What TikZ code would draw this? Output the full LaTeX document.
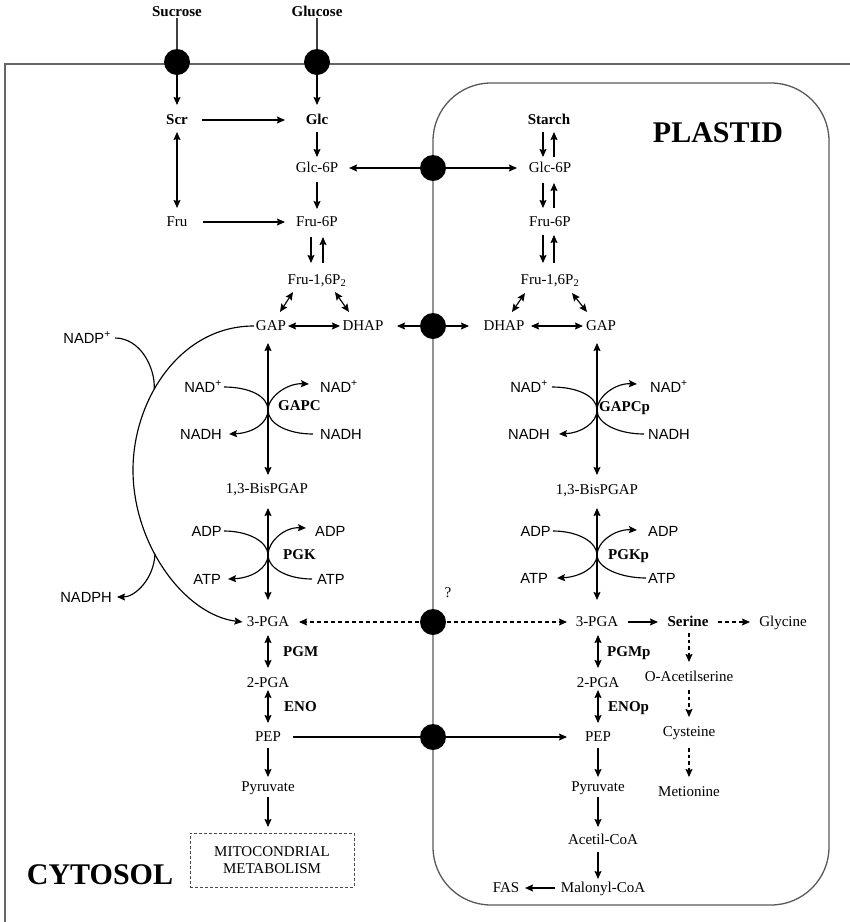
\documentclass[tikz,border=0pt]{standalone}
\usepackage{fontspec}
\setmainfont{Liberation Serif}
\newfontfamily\sansf{Liberation Sans}
\usetikzlibrary{arrows.meta,calc}
\begin{document}
\begin{tikzpicture}[x=1pt,y=-1pt,
  tx/.style={font=\fontsize{15}{17}\selectfont, inner sep=1pt, text height=9.5pt, text depth=0pt},
  bx/.style={font=\fontsize{15}{17}\selectfont\bfseries, inner sep=1pt, text height=9.5pt, text depth=0pt},
  sx/.style={font=\sansf\fontsize{14.7}{17}\selectfont, inner sep=1pt, text height=10pt, text depth=0pt},
  big/.style={font=\fontsize{30}{34}\selectfont\bfseries, inner sep=0pt},
  tr/.style={circle, fill=black, minimum size=26pt, inner sep=0pt},
  mem/.style={draw=black!60, line width=1.5pt},
  ln/.style={line width=1.15pt},
  arr/.style={ln, -{Stealth[length=8pt,width=7pt,inset=1.2pt]}},
  darr/.style={ln, {Stealth[length=8pt,width=7pt,inset=1.2pt]}-{Stealth[length=8pt,width=7pt,inset=1.2pt]}},
  dsh/.style={dash pattern=on 4pt off 3pt}
]
\useasboundingbox (0,0) rectangle (850,922);
% membranes
\draw[mem] (5,922) -- (5,64) -- (850,64);
\draw[draw=black!65, line width=1.3pt, rounded corners=58pt] (433,83) rectangle (829,905);

% ---------- cytosol nodes ----------
\node[bx] (sucrose) at (177,12) {Sucrose};
\node[bx] (glucose) at (317,12) {Glucose};
\node[bx] (scr) at (177,120) {Scr};
\node[bx] (glc) at (317,120) {Glc};
\node[tx] (glc6p) at (317,168) {Glc-6P};
\node[tx] (fru) at (177,222) {Fru};
\node[tx] (fru6p) at (317,222) {Fru-6P};
\node[tx] (fbp) at (317,280) {Fru-1,6P\textsubscript{2}};
\node[tx] (gap) at (271,326) {GAP};
\node[tx] (dhap) at (363,326) {DHAP};
\node[sx,anchor=east] (nadL) at (223,387) {NAD\textsuperscript{+}};
\node[sx,anchor=west] (nadR) at (319,387) {NAD\textsuperscript{+}};
\node[sx,anchor=east] (nadhL) at (223,434) {NADH};
\node[sx,anchor=west] (nadhR) at (319,434) {NADH};
\node[bx,anchor=west] (gapc) at (277,406) {GAPC};
\node[tx] (bpga) at (267,489) {1,3-BisPGAP};
\node[sx,anchor=east] (adpL) at (223,531) {ADP};
\node[sx,anchor=west] (adpR) at (314,531) {ADP};
\node[bx,anchor=west] (pgk) at (282,555) {PGK};
\node[sx,anchor=east] (atpL) at (222,579) {ATP};
\node[sx,anchor=west] (atpR) at (316,579) {ATP};
\node[tx] (pga3) at (268,622) {3-PGA};
\node[bx,anchor=west] (pgm) at (282,652) {PGM};
\node[tx] (pga2) at (268,683) {2-PGA};
\node[bx,anchor=west] (eno) at (283,707) {ENO};
\node[tx] (pep) at (268,737) {PEP};
\node[tx] (pyr) at (268,787) {Pyruvate};
\node[draw=black!70, line width=0.6pt, dash pattern=on 3pt off 2pt, minimum width=164pt, minimum height=54pt, align=center, font=\fontsize{15}{17}\selectfont] (mito) at (272,860) {MITOCONDRIAL\\METABOLISM};
\node[big] (cytosol) at (100,875) {CYTOSOL};
\node[sx,anchor=east] (nadp) at (112,338) {NADP\textsuperscript{+}};
\node[sx,anchor=east] (nadph) at (113,597) {NADPH};

% ---------- plastid nodes ----------
\node[big] (plastid) at (718,133) {PLASTID};
\node[bx] (starch) at (549,120) {Starch};
\node[tx] (pglc6p) at (550,168) {Glc-6P};
\node[tx] (pfru6p) at (550,222) {Fru-6P};
\node[tx] (pfbp) at (550,280) {Fru-1,6P\textsubscript{2}};
\node[tx] (pdhap) at (504,326) {DHAP};
\node[tx] (pgap) at (601,326) {GAP};
\node[sx,anchor=east] (nadLp) at (549,387) {NAD\textsuperscript{+}};
\node[sx,anchor=west] (nadRp) at (649,387) {NAD\textsuperscript{+}};
\node[sx,anchor=east] (nadhLp) at (551,434) {NADH};
\node[sx,anchor=west] (nadhRp) at (647,434) {NADH};
\node[bx,anchor=west] (gapcp) at (598,407) {GAPCp};
\node[tx] (pbpga) at (597,490) {1,3-BisPGAP};
\node[sx,anchor=east] (adpLp) at (552,531) {ADP};
\node[sx,anchor=west] (adpRp) at (647,531) {ADP};
\node[bx,anchor=west] (pgkp) at (607,555) {PGKp};
\node[sx,anchor=east] (atpLp) at (549,578) {ATP};
\node[sx,anchor=west] (atpRp) at (647,578) {ATP};
\node[tx] (ppga3) at (597,622) {3-PGA};
\node[bx] (serine) at (688,622) {Serine};
\node[tx] (glycine) at (783,622) {Glycine};
\node[bx,anchor=west] (pgmp) at (606,652) {PGMp};
\node[tx] (ppga2) at (598,683) {2-PGA};
\node[bx,anchor=west] (enop) at (607,707) {ENOp};
\node[tx] (pepp) at (598,737) {PEP};
\node[tx] (pyrp) at (598,787) {Pyruvate};
\node[tx] (acetil) at (603,840) {Acetil-CoA};
\node[tx] (malonyl) at (603,888) {Malonyl-CoA};
\node[tx] (fas) at (506,888) {FAS};
\node[tx] (oacetil) at (689,677) {O-Acetilserine};
\node[tx] (cysteine) at (689,732) {Cysteine};
\node[tx] (metionine) at (689,792) {Metionine};
\node[tx] (qm) at (448,593) {?};

% junctions of cofactor curves
\coordinate (jg1) at (268,410);
\coordinate (jk1) at (268,555);
\coordinate (jg2) at (597,410);
\coordinate (jk2) at (597,555);

% ---------- transporter lines (under circles) ----------
\draw[ln, draw=black!75] (sucrose.south) -- (177,62);
\draw[ln, draw=black!75] (glucose.south) -- (317,62);
\draw[arr] (433,168) -- ($(glc6p)+(32,0)$);
\draw[arr] (433,168) -- ($(pglc6p)+(-33,0)$);
\draw[arr] (433,326) -- ($(dhap)+(34,0)$);
\draw[arr] (433,326) -- ($(pdhap)+(-35,0)$);
\draw[arr, dsh] (433,622) -- ($(pga3)+(31,0)$);
\draw[arr, dsh] (433,622) -- ($(ppga3)+(-30,0)$);
\draw[ln] ($(pep)+(25,0)$) -- (433,737);
\draw[arr] (433,737) -- ($(pepp)+(-31,0)$);

% transporters
\node[tr] (c1) at (177,62) {};
\node[tr] (c2) at (317,62) {};
\node[tr] (c3) at (433,168) {};
\node[tr] (c4) at (433,326) {};
\node[tr] (c5) at (433,622) {};
\node[tr] (c6) at (433,737) {};

% ---------- cytosol arrows ----------
\draw[arr] (c1) -- ($(scr)+(0,-15)$);
\draw[arr] (c2) -- ($(glc)+(0,-15)$);
\draw[arr] ($(scr)+(25,0)$) -- ($(glc)+(-32,0)$);
\draw[arr] ($(glc)+(0,12)$) -- ($(glc6p)+(0,-11)$);
\draw[arr] ($(glc6p)+(0,14)$) -- ($(fru6p)+(0,-13)$);
\draw[darr] ($(scr)+(0,12)$) -- ($(fru)+(0,-14)$);
\draw[arr] ($(fru)+(26,0)$) -- ($(fru6p)+(-32,0)$);
\draw[arr] ($(fru6p)+(-6,15)$) -- ($(fbp)+(-6,-17)$);
\draw[arr] ($(fbp)+(6,-17)$) -- ($(fru6p)+(6,15)$);
\draw[darr] ($(fbp)+(-24,12)$) -- ($(gap)+(9,-14)$);
\draw[darr] ($(fbp)+(18,12)$) -- ($(dhap)+(-14,-14)$);
\draw[darr] ($(gap)+(17,0)$) -- ($(dhap)+(-23,0)$);
\draw[darr] ($(gap)+(-3,17)$) -- ($(bpga)+(1,-14)$);
\draw[darr] ($(bpga)+(1,19)$) -- ($(pga3)+(0,-22)$);
\draw[darr] ($(pga3)+(0,13)$) -- ($(pga2)+(0,-15)$);
\draw[darr] ($(pga2)+(0,7)$) -- ($(pep)+(0,-14)$);
\draw[arr] ($(pep)+(0,11)$) -- ($(pyr)+(0,-10)$);
\draw[arr] ($(pyr)+(0,10)$) -- ($(pyr)+(0,40)$);
% GAPC cofactors
\draw[ln] ([xshift=1pt]nadL.east) .. controls +(25,0) and +(0,-14) .. (jg1)
          .. controls +(0,14) and +(-25,0) .. ([xshift=-6pt]nadhR.west);
\draw[darr] ([xshift=6pt]nadhL.east) .. controls +(24,-1) and +(0,13) .. (jg1)
          .. controls +(0,-13) and +(-22,-1) .. ([shift={(-10,-3)}]nadR.west);
% PGK cofactors
\draw[ln] ([xshift=1pt]adpL.east) .. controls +(25,0) and +(0,-13) .. (jk1)
          .. controls +(0,13) and +(-25,0) .. ([xshift=-4pt]atpR.west);
\draw[darr] ([xshift=6pt]atpL.east) .. controls +(24,-1) and +(0,13) .. (jk1)
          .. controls +(0,-13) and +(-22,-1) .. ([shift={(-8,-3)}]adpR.west);
% NADP shunt
\draw[arr] ([xshift=-1pt]gap.west) .. controls (180,326) and (133,400) .. coordinate[pos=0.6] (j1) (133,470)
          .. controls (133,545) and (185,615) .. coordinate[pos=0.4] (j2) ([xshift=-3pt]pga3.west);
\draw[ln] ([xshift=3pt]nadp.east) .. controls +(25,0) and +(1,-22) .. (j1);
\draw[arr] (j2) .. controls +(-1,25) and +(18,0) .. ([xshift=4pt]nadph.east);

% ---------- plastid arrows ----------
\draw[arr] ($(starch)+(-6,12)$) -- ($(pglc6p)+(-7,-11)$);
\draw[arr] ($(pglc6p)+(4,-11)$) -- ($(starch)+(5,12)$);
\draw[arr] ($(pglc6p)+(-7,15)$) -- ($(pfru6p)+(-7,-14)$);
\draw[arr] ($(pfru6p)+(4,-14)$) -- ($(pglc6p)+(4,15)$);
\draw[arr] ($(pfru6p)+(-7,13)$) -- ($(pfbp)+(-7,-17)$);
\draw[arr] ($(pfbp)+(4,-17)$) -- ($(pfru6p)+(4,13)$);
\draw[darr] ($(pfbp)+(-25,13)$) -- ($(pdhap)+(8,-14)$);
\draw[darr] ($(pfbp)+(22,13)$) -- ($(pgap)+(-14,-14)$);
\draw[darr] ($(pdhap)+(27,0)$) -- ($(pgap)+(-18,0)$);
\draw[darr] ($(pgap)+(-4,17)$) -- ($(pbpga)+(0,-15)$);
\draw[darr] ($(pbpga)+(0,18)$) -- ($(ppga3)+(0,-22)$);
\draw[darr] ($(ppga3)+(1,13)$) -- ($(ppga2)+(0,-15)$);
\draw[darr] ($(ppga2)+(0,7)$) -- ($(pepp)+(0,-14)$);
\draw[arr] ($(pepp)+(0,11)$) -- ($(pyrp)+(0,-10)$);
\draw[arr] ($(pyrp)+(0,10)$) -- ($(acetil)+(-5,-13)$);
\draw[arr] ($(acetil)+(-5,12)$) -- ($(malonyl)+(-5,-9)$);
\draw[arr] ($(malonyl)+(-48,0)$) -- ($(fas)+(19,0)$);
\draw[arr] ($(ppga3)+(31,0)$) -- ($(serine)+(-30,0)$);
\draw[arr, dsh] ($(serine)+(30,0)$) -- ($(glycine)+(-33,0)$);
\draw[arr, dash pattern=on 3.5pt off 3pt] ($(serine)+(1,11)$) -- ($(oacetil)+(0,-15)$);
\draw[arr, dash pattern=on 3.5pt off 3pt] ($(oacetil)+(0,13)$) -- ($(cysteine)+(0,-15)$);
\draw[arr, dash pattern=on 3.5pt off 3pt] ($(cysteine)+(0,16)$) -- ($(metionine)+(0,-15)$);
% GAPCp cofactors
\draw[ln] ([xshift=3pt]nadLp.east) .. controls +(25,0) and +(0,-14) .. (jg2)
          .. controls +(0,14) and +(-25,0) .. ([xshift=-3pt]nadhRp.west);
\draw[darr] ([xshift=8pt]nadhLp.east) .. controls +(22,-1) and +(0,13) .. (jg2)
          .. controls +(0,-13) and +(-22,-1) .. ([shift={(-12,-3)}]nadRp.west);
% PGKp cofactors
\draw[ln] ([xshift=1pt]adpLp.east) .. controls +(25,0) and +(0,-13) .. (jk2)
          .. controls +(0,13) and +(-25,0) .. ([xshift=-1pt]atpRp.west);
\draw[darr] ([xshift=8pt]atpLp.east) .. controls +(22,-1) and +(0,13) .. (jk2)
          .. controls +(0,-13) and +(-22,-1) .. ([shift={(-10,-1)}]adpRp.west);
\end{tikzpicture}
\end{document}
